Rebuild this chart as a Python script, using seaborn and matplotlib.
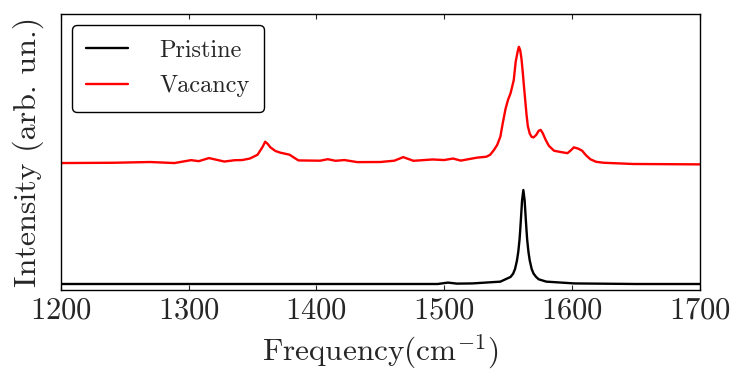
import pandas as pd
import seaborn as sns
import matplotlib.pyplot as plt

# Спектры (отн. ед.)
pristine_freq = [1200, 1300, 1400, 1495, 1503, 1510, 1522, 1544, 1552, 1554,
                 1555.5, 1557, 1558, 1559, 1559.5, 1560, 1560.5, 1561, 1562, 1563,
                 1563.5, 1564, 1564.5, 1565, 1566, 1567, 1568.5, 1570, 1572, 1574,
                 1580, 1602, 1650, 1700]
pristine_int = [0.0, 0.0, 0.0, 0.0, 0.015, 0.004, 0.006, 0.025, 0.075, 0.11,
                0.16, 0.25, 0.34, 0.47, 0.565, 0.67, 0.78, 0.89, 1.0, 0.89,
                0.78, 0.67, 0.565, 0.47, 0.34, 0.25, 0.16, 0.11, 0.075, 0.05,
                0.025, 0.006, 0.0, 0.0]

vacancy_freq = [1200, 1241, 1270, 1289, 1302, 1308, 1316, 1328, 1336, 1342,
                1348, 1354, 1358, 1360, 1362, 1364, 1368, 1372, 1379, 1386,
                1403, 1409, 1415, 1422, 1432, 1450, 1461, 1468, 1476, 1491,
                1500, 1507, 1513, 1526, 1533, 1536, 1539, 1541.5, 1544, 1546,
                1548, 1550, 1552, 1554.5, 1556, 1557.5, 1558.5, 1559.5, 1560.5, 1561.5,
                1562.5, 1563.5, 1564.5, 1565.5, 1567, 1568.5, 1570, 1572, 1574, 1575.5,
                1577, 1579.5, 1582, 1586, 1591, 1596.5, 1599, 1601.5, 1605, 1608,
                1611, 1614.5, 1619, 1625, 1648, 1700]
vacancy_int = [1.287, 1.290, 1.298, 1.287, 1.318, 1.307, 1.340, 1.303, 1.317, 1.319,
               1.335, 1.375, 1.46, 1.514, 1.49, 1.455, 1.415, 1.397, 1.376, 1.315,
               1.312, 1.328, 1.311, 1.319, 1.297, 1.298, 1.312, 1.350, 1.311, 1.325,
               1.319, 1.335, 1.313, 1.345, 1.354, 1.375, 1.426, 1.479, 1.567, 1.72,
               1.86, 1.96, 2.03, 2.17, 2.365, 2.47, 2.524, 2.49, 2.40, 2.26,
               2.10, 1.95, 1.80, 1.68, 1.60, 1.565, 1.56, 1.585, 1.63, 1.64,
               1.61, 1.532, 1.47, 1.418, 1.405, 1.392, 1.42, 1.454, 1.44, 1.418,
               1.37, 1.327, 1.30, 1.290, 1.277, 1.273]

df = pd.concat([
    pd.DataFrame({"freq": pristine_freq, "intensity": pristine_int, "sample": "Pristine"}),
    pd.DataFrame({"freq": vacancy_freq, "intensity": vacancy_int, "sample": "Vacancy"}),
])

sns.set_style("white")
plt.rcParams["font.family"] = ["cmr10", "DejaVu Serif"]
plt.rcParams["mathtext.fontset"] = "cm"
plt.rcParams["axes.unicode_minus"] = False
plt.rcParams["axes.formatter.use_mathtext"] = True

fig = plt.figure(figsize=(7.35, 3.72), dpi=100)
ax = fig.add_axes([0.0826, 0.2204, 0.8694, 0.7412])

sns.lineplot(data=df, x="freq", y="intensity", hue="sample",
             palette={"Pristine": "black", "Vacancy": "red"},
             linewidth=1.7, ax=ax)

ax.set_xlim(1200, 1700)
ax.set_ylim(-0.064, 2.87)
ax.set_xticks([1200, 1300, 1400, 1500, 1600, 1700])
ax.set_yticks([])
ax.tick_params(axis="x", direction="in", top=True, bottom=True,
               length=3.6, width=0.8, labelsize=22, pad=5)
for s in ax.spines.values():
    s.set_linewidth(1.0)
    s.set_color("black")

ax.set_xlabel("Frequency(cm$^{-1}$)", fontsize=22.5, labelpad=6)
ax.set_ylabel("Intensity (arb. un.)", fontsize=23, labelpad=12)

leg = ax.legend(loc="upper left", fontsize=17.5, frameon=True, fancybox=True,
                handlelength=1.7, handletextpad=1.3, borderaxespad=0.45,
                borderpad=0.6, labelspacing=0.55)
leg.get_frame().set_edgecolor("black")
leg.get_frame().set_linewidth(1.0)
leg.get_frame().set_alpha(1)
leg.set_title(None)

fig.savefig("out.png", dpi=100)
